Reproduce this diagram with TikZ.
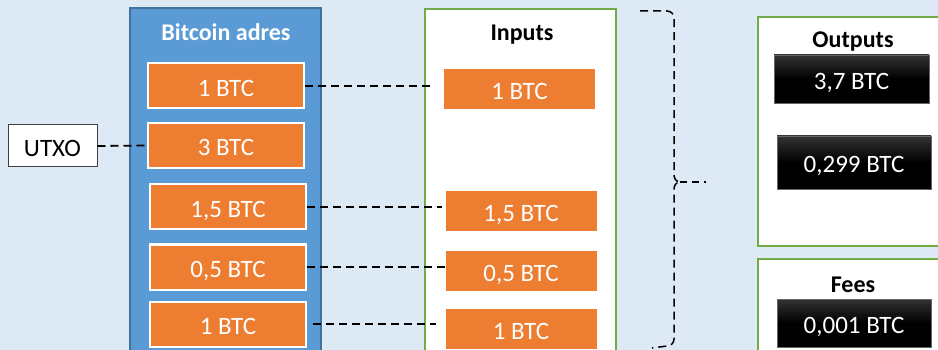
\documentclass[tikz,border=0pt]{standalone}
\usepackage{fontspec}
\setmainfont{Carlito}
\usepackage{tikz}
\usetikzlibrary{positioning}
\definecolor{bgblue}{HTML}{DDE9F5}
\definecolor{adresblue}{HTML}{5B9BD5}
\definecolor{adresedge}{HTML}{41719C}
\definecolor{btcorange}{HTML}{ED7D31}
\definecolor{boxgreen}{HTML}{70AD47}

\tikzset{
  amount/.style={font=\fontsize{25}{28}\selectfont,text height=21pt,text depth=0pt},
  utxobox/.style={amount,draw=black!75,fill=white,line width=1pt,inner sep=0pt,
    minimum width=89pt,minimum height=42pt},
  coin/.style={amount,draw=white,fill=btcorange,line width=2pt,inner sep=0pt,text=white,
    minimum width=156pt,minimum height=45pt},
  incoin/.style={amount,fill=btcorange,inner sep=0pt,text=white,
    minimum width=151pt,minimum height=40pt},
  outcoin/.style={amount,draw=black!60,top color=black!80,bottom color=black,middle color=black,
    inner sep=0pt,text=white,line width=.8pt,
    minimum width=155pt,minimum height=48pt},
  head/.style={font=\bfseries\fontsize{24}{28}\selectfont},
  link/.style={dashed,dash pattern=on 8pt off 5pt,line width=1.8pt}
}

\begin{document}
\begin{tikzpicture}[x=1pt,y=-1pt]
\useasboundingbox (0,0) rectangle (938,350);
\clip (0,0) rectangle (938,350);
\fill[bgblue] (0,0) rectangle (938,350);

% bitcoin address column
\draw[fill=adresblue,draw=adresedge,line width=1.5pt] (130,8) rectangle (321,370);
\node[head,text=white] (adres) at (226,32) {Bitcoin adres};
\node[coin] (b1) at (226,86) {1 BTC};
\node[coin] (b2) at (226,145.5) {3 BTC};
\node[coin] (b3) at (228,207) {1,5 BTC};
\node[coin] (b4) at (228,267) {0,5 BTC};
\node[coin] (b5) at (228,324) {1 BTC};

\node[utxobox] (utxo) at (52.5,146) {UTXO};
\draw[link] (utxo.east) -- (b2.west);

% inputs
\draw[fill=white,draw=boxgreen,line width=1.5pt] (425,9) rectangle (616,370);
\node[head] (inputs) at (522,35) {Inputs};
\node[incoin] (i1) at (519.5,89) {1 BTC};
\node[incoin] (i2) at (521,211) {1,5 BTC};
\node[incoin] (i3) at (521,271) {0,5 BTC};
\node[incoin] (i4) at (521,329) {1 BTC};

\draw[link,shorten >=11pt] (b1.east) -- (b1.east -| i1.west);
\draw[link,shorten >=3pt] (b3.east) -- (b3.east -| i2.west);
\draw[link] (b4.east) -- (b4.east -| i3.west);
\draw[link,shorten >=9pt,shorten <=6pt] (b5.east) -- (b5.east -| i4.west);

% brace
\coordinate (tip) at (680,182);
\coordinate (tipend) at (706,182);
\draw[link,line width=1.5pt] (640,11) -- (667,11) to[out=0,in=90] (674,18) -- (674,175)
  to[out=-90,in=180] (tip) to[out=180,in=90] (674,189) -- (674,339)
  to[out=-90,in=0] (667,346) -- (652,348);
\draw[link,line width=1.5pt,dash pattern=on 7pt off 5pt] (tip) -- (tipend);

% outputs
\draw[fill=white,draw=boxgreen,line width=1.5pt] (758,17) rectangle (950,246);
\node[head] (outputs) at (853,42) {Outputs};
\node[outcoin] (o1) at (851.5,79) {3,7 BTC};
\node[outcoin,minimum width=154pt,minimum height=53pt] (o2) at (854,162.5) {0,299 BTC};

% fees
\draw[fill=white,draw=boxgreen,line width=1.5pt] (758,259) rectangle (950,370);
\node[head] (fees) at (853,285) {Fees};
\node[outcoin,minimum width=154pt] (f1) at (854,323) {0,001 BTC};
\end{tikzpicture}
\end{document}
